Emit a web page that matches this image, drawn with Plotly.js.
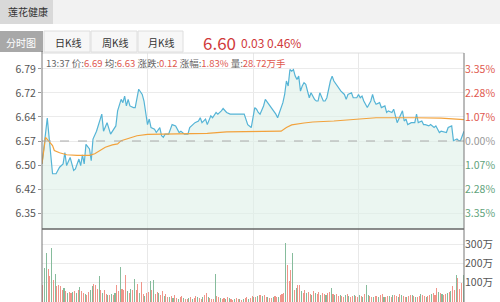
<!DOCTYPE html>
<html><head><meta charset="utf-8">
<script src="https://cdn.plot.ly/plotly-3.0.1.min.js"></script>
<style>html,body{margin:0;padding:0;background:#fff;}#c{width:500px;height:302px;}</style>
</head><body><div id="c"></div>
<script>
// ---- data ----
const stockName = "莲花健康";
const tabs = ["分时图", "日K线", "周K线", "月K线"];
const lastPrice = "6.60", change = "0.03", changePct = "0.46%";
const prevClose = 6.57;
const infoLabels = ["13:37 价:", "均:", "涨跌:", "涨幅:", "量:"];
const infoValues = ["6.69", "6.63", "0.12", "1.83%", "28.72万手"];
const priceTickText = ["6.35", "6.42", "6.50", "6.57", "6.64", "6.72", "6.79"];
const pctTickText = ["3.35%", "2.28%", "1.07%", "0.00%", "1.07%", "2.28%", "3.35%"];
const volTickVals = [0, 100, 200, 300];
const volTickText = ["0", "100万", "200万", "300万"];

const minutes = [0,3,6,8,10,12,13,14,16,17,18,19,21,22,23,24,25,27,28,29,31,34,35,37,39,42,43,45,46,47,48,49,50,52,53,55,57,58,60,61,62,64,65,67,68,69,70,72,74,76,78,79,81,83,84,87,89,90,91,93,94,96,97,99,100,102,103,105,107,115,116,117,119,121,122,123,124,126,127,129,130,132,133,134,136,137,138,139,140,141,142,143,144,145,146,147,148,149,150,151,152,153,155,156,157,158,160,161,162,164,165,166,168,169,170,172,173,174,176,177,179,180,181,182,183,185,186,187,188,189,190,192,193,195,196,197,199,200,202,203,204,205,206,207,208,210,212,213,214,216,217,218,220,221,223,224,225,226,227,229,230,231,233,234,236,237,238,240];
const prices = [6.50,6.64,6.47,6.47,6.49,6.50,6.535,6.495,6.52,6.50,6.48,6.485,6.515,6.495,6.528,6.50,6.56,6.546,6.51,6.576,6.60,6.652,6.60,6.626,6.591,6.616,6.662,6.697,6.687,6.707,6.677,6.697,6.677,6.672,6.672,6.728,6.712,6.692,6.62,6.637,6.611,6.606,6.596,6.611,6.586,6.581,6.591,6.591,6.62,6.616,6.596,6.60,6.591,6.591,6.611,6.626,6.631,6.641,6.626,6.637,6.62,6.647,6.641,6.657,6.652,6.662,6.669,6.657,6.652,6.652,6.637,6.62,6.611,6.672,6.667,6.657,6.652,6.677,6.697,6.682,6.677,6.662,6.652,6.641,6.672,6.687,6.712,6.753,6.738,6.788,6.783,6.788,6.768,6.758,6.768,6.722,6.738,6.748,6.743,6.717,6.702,6.717,6.697,6.692,6.692,6.717,6.692,6.692,6.702,6.753,6.768,6.753,6.738,6.728,6.722,6.712,6.697,6.712,6.717,6.702,6.702,6.712,6.702,6.707,6.692,6.672,6.682,6.692,6.712,6.692,6.682,6.687,6.672,6.677,6.657,6.662,6.657,6.667,6.626,6.637,6.647,6.662,6.631,6.637,6.62,6.626,6.626,6.652,6.626,6.631,6.62,6.62,6.616,6.62,6.611,6.616,6.606,6.596,6.60,6.596,6.596,6.611,6.616,6.571,6.576,6.571,6.571,6.60];

const avgMinutes = [0,2,6,7,10,14,20,27,30,33,36,40,43,45,49,54,60,67,94,105,124,136,139,142,149,154,166,180,190,212,227,240];
const avgPrices = [6.50,6.581,6.556,6.541,6.534,6.528,6.526,6.526,6.531,6.541,6.551,6.558,6.561,6.571,6.578,6.586,6.59,6.591,6.593,6.598,6.599,6.600,6.611,6.619,6.625,6.628,6.631,6.637,6.641,6.641,6.64,6.635];

// volume per minute, in 万
const volume = [
 90,177,256,172,133,283,116,147,85,88,
 82,60,75,55,48,52,45,50,58,48,
 63,80,55,45,40,38,50,62,85,95,
 90,70,137,60,45,65,40,38,35,42,
 36,45,89,55,180,70,60,142,55,45,
 70,60,120,65,95,48,102,40,30,45,
 50,107,60,116,40,50,45,35,55,30,
 40,28,25,30,22,35,20,18,25,30,
 22,18,15,20,25,18,22,30,26,20,
 18,25,35,49,28,20,18,15,147,30,
 25,20,18,22,15,28,20,18,12,15,
 20,18,15,12,16,20,25,18,22,30,
 28,25,30,35,38,32,36,28,24,20,
 22,26,30,25,28,35,40,45,309,195,
 110,168,256,60,75,89,89,55,48,60,
 45,52,40,38,55,48,42,50,35,45,
 40,38,45,50,74,42,35,40,30,38,
 32,28,35,40,30,25,33,38,30,28,
 35,30,28,40,89,35,30,25,28,32,
 30,26,35,40,28,25,30,32,26,35,
 38,30,28,42,35,30,25,28,32,38,
 35,30,26,28,32,40,35,30,28,32,
 36,40,45,38,72,50,45,40,35,42,
 45,50,55,81,60,142,125,70,100,142];
// r = up (red), g = down (green)
const volDir = [
 "rggrrgrgrr","rrgrgrrgrg","rgrrgrrggr","rrgrgrrgrg","rgrrgrrrgr",
 "grgrrgrrgr","rgrgrrgrrg","rrgrgrrgrr","grrgrgrrgr","rgrrgrrrgr",
 "rgrrgrgrrg","rrgrgrrgrr","grgrrgrrgr","rgrrgrrrgr","rrgrgrrgrr",
 "grrgrgrrgr","rgrrgrgrrg","rrgrgrrgrr","grgrggrrgr","rgrrgrrgrg",
 "rrgrgrrgrr","grgrrgrrgr","rgrrrgrgrr","grgrrgrrrg"].join("");

// ---- chart ----
const W = 500, H = 302;
const px = x => x / W, py = y => 1 - y / H;
const RED = "#e0584e", GREEN = "#5fa37c", GRAY = "#555";
const FONT = "Noto Sans CJK SC, Noto Sans, sans-serif";

const step = 0.22 / 3;
const priceTickVals = priceTickText.map((_, i) => prevClose + (i - 3) * step);
const pctColors = pctTickText.map((_, i) => i > 3 ? RED : (i < 3 ? GREEN : "#999"));
const volX = volume.map((_, i) => i + 0.5);
const volColors = volume.map((_, i) => volDir[i] === "g" ? "#86bc9c" : "#f0958a");

const traces = [
  {x: minutes, y: prices, type: "scatter", mode: "lines", xaxis: "x", yaxis: "y",
   fill: "tozeroy", fillcolor: "rgba(222,240,232,0.6)",
   line: {color: "#55b4d6", width: 1.2}, hoverinfo: "skip"},
  {x: avgMinutes, y: avgPrices, type: "scatter", mode: "lines", xaxis: "x", yaxis: "y",
   line: {color: "#f2a23c", width: 1.2}, hoverinfo: "skip"},
  {x: volX, y: volume, type: "bar", xaxis: "x", yaxis: "y2", width: 0.6,
   marker: {color: volColors, line: {width: 0}}, hoverinfo: "skip"},
  {x: [0], y: [prevClose], type: "scatter", mode: "markers", xaxis: "x", yaxis: "y3",
   marker: {opacity: 0}, hoverinfo: "skip"}
];

const annotations = [];
const ann = (text, x, y, o) => annotations.push(Object.assign({
  text, x: px(x), y: py(y), xref: "paper", yref: "paper", showarrow: false,
  xanchor: "left", yanchor: "middle", font: {family: FONT, size: 10, color: "#333"}}, o || {}));

ann(stockName, 6, 12, {font: {family: FONT, size: 10, color: "#333"}});
const tabX = [0, 44, 91, 138, 184];
tabs.forEach((t, i) => ann(t, (tabX[i] + tabX[i + 1]) / 2 - (i === 0 ? 1 : 0), 42,
  {xanchor: "center", font: {family: FONT, size: 10, color: i === 0 ? "#fff" : "#333"}}));
ann(lastPrice, 201, 42, {font: {family: FONT, size: 17, color: "#d0393b"}});
ann(change + " " + changePct, 239, 43, {font: {family: FONT, size: 12, color: "#d0393b"}});

let info = "";
infoLabels.forEach((l, i) => {
  info += `<span style="color:#666">${l}</span><span style="color:${RED}">${infoValues[i]}</span>` + (i < infoLabels.length - 1 ? " " : "");
});
ann(info, 44, 63, {font: {family: FONT, size: 9.5, color: "#666"}});

const shapes = [
  {type: "rect", xref: "paper", yref: "paper", x0: 0, x1: 1, y0: py(24), y1: 1, fillcolor: "#f2f2f2", line: {width: 0}, layer: "below"},
  {type: "rect", xref: "paper", yref: "paper", x0: 0, x1: px(53), y0: py(24), y1: 1, fillcolor: "#d9d9d9", line: {width: 0}, layer: "below"},
  {type: "rect", xref: "paper", yref: "paper", x0: 0, x1: px(43), y0: py(52), y1: py(31), fillcolor: "#a8a8a8", line: {width: 0}, layer: "below"}
];
for (let i = 1; i < 4; i++) {
  shapes.push({type: "rect", xref: "paper", yref: "paper", x0: px(tabX[i]), x1: px(tabX[i + 1] - 1), y0: py(52), y1: py(31),
    fillcolor: "#f7f7f7", line: {color: "#dedede", width: 1}, layer: "below"});
}
shapes.push(
  {type: "line", xref: "paper", yref: "paper", x0: px(42), x1: px(464), y0: py(53), y1: py(53), line: {color: "#dcdcdc", width: 1}},
  {type: "line", xref: "x", yref: "y", x0: 0, x1: 240, y0: prevClose, y1: prevClose, line: {color: "#aaa", width: 1, dash: "dash"}},
  {type: "line", xref: "paper", yref: "paper", x0: px(42), x1: px(42), y0: 0, y1: py(51), line: {color: "#777", width: 1}},
  {type: "line", xref: "paper", yref: "paper", x0: px(464), x1: px(464), y0: 0, y1: py(53), line: {color: "#777", width: 1}},
  {type: "line", xref: "paper", yref: "paper", x0: px(42), x1: px(464), y0: py(229), y1: py(229), line: {color: "#666", width: 1.5}}
);

const mainDom = [py(229), py(53)];
const priceRange = [6.3015, 6.8385];

const layout = {
  width: W, height: H, margin: {l: 0, r: 0, t: 0, b: 0},
  paper_bgcolor: "#fff", plot_bgcolor: "rgba(0,0,0,0)",
  showlegend: false, bargap: 0,
  font: {family: FONT, size: 10, color: GRAY},
  xaxis: {domain: [px(42), px(464)], range: [0, 240], anchor: "y2",
    tickvals: [60, 120, 180], showticklabels: false, ticks: "",
    showgrid: true, gridcolor: "#e8e8e8", gridwidth: 1, zeroline: false, showline: false, fixedrange: true},
  yaxis: {domain: mainDom, range: priceRange, anchor: "x",
    tickvals: priceTickVals, ticktext: priceTickText, ticks: "outside", ticklen: 3, tickcolor: "#999",
    tickfont: {family: FONT, size: 10.5, color: GRAY},
    showgrid: true, gridcolor: "#ebebeb", zeroline: false, showline: false},
  yaxis3: {overlaying: "y", side: "right", range: priceRange, anchor: "x",
    tickvals: priceTickVals, ticktext: pctTickText.map((t, i) => `<span style="color:${pctColors[i]}">${t}</span>`),
    ticks: "", tickfont: {family: FONT, size: 10.5}, showgrid: false, zeroline: false, showline: false},
  yaxis2: {domain: [0, py(229)], range: [0, 380], anchor: "x", side: "right",
    tickvals: volTickVals, ticktext: volTickText, ticks: "",
    tickfont: {family: FONT, size: 10.5, color: GRAY},
    showgrid: true, gridcolor: "#ebebeb", zeroline: false, showline: false},
  shapes, annotations
};

Plotly.newPlot("c", traces, layout, {staticPlot: true, displayModeBar: false});
</script></body></html>
